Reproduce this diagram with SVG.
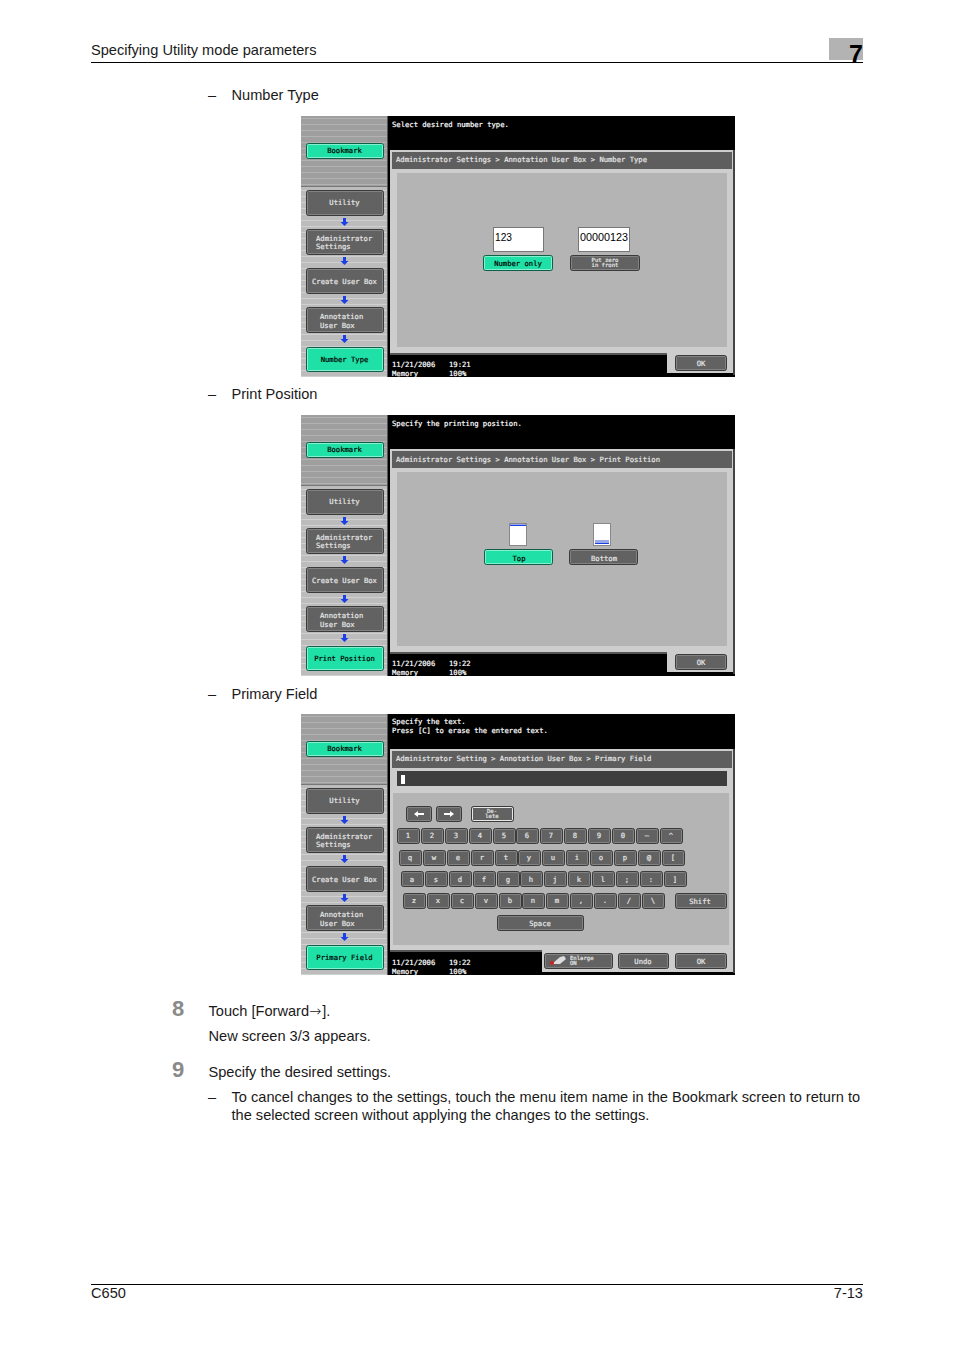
<svg xmlns="http://www.w3.org/2000/svg" xmlns:xlink="http://www.w3.org/1999/xlink" width="954" height="1350" viewBox="0 0 954 1350">
<style>
.t{font-family:"Liberation Sans",Arial,sans-serif;font-size:14.6px;fill:#1a1a1a}
.n{font-family:"Liberation Sans",Arial,sans-serif;font-size:22px;font-weight:bold;fill:#8a8a8a}
.m{font-family:"DejaVu Sans Mono","Liberation Mono",monospace;font-size:7.2px}
.w{fill:#fff;stroke:#fff;stroke-width:.2}.g{fill:#e6e6e6;stroke:#e6e6e6;stroke-width:.2}.k{fill:#000;stroke:#000;stroke-width:.2}.c{text-anchor:middle}
.s{font-size:5.6px}
.bo{fill:#626262;stroke:#3a3a3a;stroke-width:1}
.bi{fill:none;stroke:#828282;stroke-width:1}
.go{fill:#1fe0a6;stroke:#0d5f47;stroke-width:1}
.gi{fill:none;stroke:#86efce;stroke-width:1}
.ar{fill:#1a3fe6}
</style>
<defs>
<pattern id="st1" width="6" height="6" patternUnits="userSpaceOnUse"><rect width="6" height="6" fill="#9f9f9f"/><rect y="4" width="6" height="1" fill="#b2b2b2"/></pattern>
<pattern id="st2" width="6" height="6" patternUnits="userSpaceOnUse"><rect width="6" height="6" fill="#bcbcbc"/><rect y="4" width="6" height="1" fill="#d0d0d0"/></pattern>
<polygon id="down" class="ar" points="-1.5,0 1.5,0 1.5,4 4,4 0,8 -4,4 -1.5,4"/>
<g id="key"><rect x="0.5" y="0.5" width="22" height="15" rx="2" class="bo"/><rect x="1.5" y="1.5" width="20" height="13" rx="1" class="bi"/></g>
<g id="side">
<rect x="301" y="116" width="87" height="261" fill="url(#st2)"/>
<rect x="301" y="116" width="87" height="70" fill="url(#st1)"/>
<rect x="301" y="186" width="87" height="1" fill="#777"/>
<rect x="387" y="116" width="1" height="261" fill="#555"/>
<rect x="306.5" y="143.5" width="77" height="15" rx="2" class="go"/><rect x="307.5" y="144.5" width="75" height="13" rx="1" class="gi"/>
<rect x="306.5" y="190.5" width="77" height="25" rx="2" class="bo"/><rect x="307.5" y="191.5" width="75" height="23" rx="1" class="bi"/>
<use href="#down" xlink:href="#down" x="344.5" y="218"/>
<rect x="306.5" y="229.5" width="77" height="25" rx="2" class="bo"/><rect x="307.5" y="230.5" width="75" height="23" rx="1" class="bi"/>
<use href="#down" xlink:href="#down" x="344.5" y="257"/>
<rect x="306.5" y="268.5" width="77" height="25" rx="2" class="bo"/><rect x="307.5" y="269.5" width="75" height="23" rx="1" class="bi"/>
<use href="#down" xlink:href="#down" x="344.5" y="296"/>
<rect x="306.5" y="307.5" width="77" height="25" rx="2" class="bo"/><rect x="307.5" y="308.5" width="75" height="23" rx="1" class="bi"/>
<use href="#down" xlink:href="#down" x="344.5" y="335"/>
<rect x="306.5" y="347.5" width="77" height="24" rx="2" class="go"/><rect x="307.5" y="348.5" width="75" height="22" rx="1" class="gi"/>
</g>
</defs>
<rect width="954" height="1350" fill="#fff"/>
<g id="page-header">
<rect x="829" y="38" width="34" height="22" fill="#b3b3b3"/>
<text x="91" y="55" class="t">Specifying Utility mode parameters</text>
<text x="849" y="63" font-family="Liberation Sans,Arial,sans-serif" font-weight="bold" font-size="25" fill="#000">7</text>
<rect x="91" y="62" width="772" height="1" fill="#000"/>
</g>
<text x="208" y="100" class="t">–</text><text x="231.500" y="100" class="t">Number Type</text>
<text x="208" y="399" class="t">–</text><text x="231.500" y="399" class="t">Print Position</text>
<text x="208" y="699" class="t">–</text><text x="231.500" y="699" class="t">Primary Field</text>

<g id="screen-number-type">
<use href="#side" xlink:href="#side"/>
<rect x="388" y="116" width="347" height="261" fill="#000"/>
<rect x="390" y="150" width="343" height="203" fill="#cdcdcd"/>
<rect x="390" y="353" width="277" height="2" fill="#555"/>
<rect x="392" y="152" width="340" height="17" fill="#5e5e5e"/>
<rect x="667" y="353" width="66" height="20" fill="#cdcdcd"/>
<rect x="733" y="150" width="2" height="225" fill="#444"/>
<rect x="397" y="173" width="330" height="174" fill="#b4b4b4"/>
<rect x="493.500" y="227.500" width="50" height="24" fill="#fff" stroke="#777"/>
<rect x="578.500" y="227.500" width="51" height="24" fill="#fff" stroke="#777"/>
<text x="495" y="240.500" font-family="Liberation Sans,Arial,sans-serif" font-size="10" fill="#000" textLength="17" lengthAdjust="spacingAndGlyphs">123</text>
<text x="580" y="240.500" font-family="Liberation Sans,Arial,sans-serif" font-size="10" fill="#000" textLength="48" lengthAdjust="spacingAndGlyphs">00000123</text>
<rect x="483.500" y="255.500" width="69" height="15" rx="2" class="go"/><rect x="484.500" y="256.500" width="67" height="13" rx="1" class="gi"/>
<rect x="570.500" y="255.500" width="69" height="15" rx="2" class="bo"/><rect x="571.500" y="256.500" width="67" height="13" rx="1" class="bi"/>
<rect x="675.500" y="355.500" width="51" height="15" rx="2" class="bo"/><rect x="676.500" y="356.500" width="49" height="13" rx="1" class="bi"/>
<g class="m">
<text x="392" y="127" class="w">Select desired number type.</text>
<text x="396" y="162" class="g">Administrator Settings &gt; Annotation User Box &gt; Number Type</text>
<text x="344.500" y="153" class="k c">Bookmark</text>
<text x="344.500" y="205" class="g c">Utility</text>
<text x="316" y="241" class="g">Administrator</text>
<text x="316" y="249" class="g">Settings</text>
<text x="344.500" y="284" class="g c">Create User Box</text>
<text x="320" y="319" class="g">Annotation</text>
<text x="320" y="328" class="g">User Box</text>
<text x="344.500" y="362" class="k c">Number Type</text>
<text x="518" y="266" class="k c">Number only</text>
<text x="605" y="262" class="g c s">Put zero</text>
<text x="605" y="267" class="g c s">in front</text>
<text x="701" y="366" class="g c">OK</text>
<text x="392" y="367" class="w">11/21/2006</text>
<text x="449" y="367" class="w">19:21</text>
<text x="392" y="376" class="w">Memory</text>
<text x="449" y="376" class="w">100%</text>
</g>
</g>

<g id="screen-print-position" transform="translate(0,299)">
<use href="#side" xlink:href="#side"/>
<rect x="388" y="116" width="347" height="261" fill="#000"/>
<rect x="390" y="150" width="343" height="203" fill="#cdcdcd"/>
<rect x="390" y="353" width="277" height="2" fill="#555"/>
<rect x="392" y="152" width="340" height="17" fill="#5e5e5e"/>
<rect x="667" y="353" width="66" height="20" fill="#cdcdcd"/>
<rect x="733" y="150" width="2" height="225" fill="#444"/>
<rect x="397" y="173" width="330" height="174" fill="#b4b4b4"/>
<rect x="509.500" y="224.500" width="17" height="22" fill="#fff" stroke="#888"/>
<rect x="510" y="225" width="16" height="1" fill="#9aa8e8"/><rect x="510" y="226" width="16" height="1" fill="#1a3fe6"/>
<rect x="593.500" y="224.500" width="17" height="22" fill="#fff" stroke="#888"/>
<rect x="595" y="241" width="14" height="3" fill="#9aa8e8"/><rect x="595" y="244" width="14" height="1" fill="#1a3fe6"/>
<rect x="484.500" y="250.500" width="68" height="15" rx="2" class="go"/><rect x="485.500" y="251.500" width="66" height="13" rx="1" class="gi"/>
<rect x="569.500" y="250.500" width="68" height="15" rx="2" class="bo"/><rect x="570.500" y="251.500" width="66" height="13" rx="1" class="bi"/>
<rect x="675.500" y="355.500" width="51" height="15" rx="2" class="bo"/><rect x="676.500" y="356.500" width="49" height="13" rx="1" class="bi"/>
<g class="m">
<text x="392" y="127" class="w">Specify the printing position.</text>
<text x="396" y="163" class="g">Administrator Settings &gt; Annotation User Box &gt; Print Position</text>
<text x="344.500" y="153" class="k c">Bookmark</text>
<text x="344.500" y="205" class="g c">Utility</text>
<text x="316" y="241" class="g">Administrator</text>
<text x="316" y="249" class="g">Settings</text>
<text x="344.500" y="284" class="g c">Create User Box</text>
<text x="320" y="319" class="g">Annotation</text>
<text x="320" y="328" class="g">User Box</text>
<text x="344.500" y="362" class="k c">Print Position</text>
<text x="519" y="261.500" class="k c">Top</text>
<text x="604" y="261.500" class="g c">Bottom</text>
<text x="701" y="366" class="g c">OK</text>
<text x="392" y="367" class="w">11/21/2006</text>
<text x="449" y="367" class="w">19:22</text>
<text x="392" y="376" class="w">Memory</text>
<text x="449" y="376" class="w">100%</text>
</g>
</g>

<g id="screen-primary-field">
<g transform="translate(0,598)"><use href="#side" xlink:href="#side"/></g>
<rect x="388" y="714" width="347" height="261" fill="#000"/>
<rect x="390" y="749" width="343" height="203" fill="#cdcdcd"/>
<rect x="390" y="950" width="152" height="2" fill="#555"/>
<rect x="392" y="751" width="340" height="17" fill="#5e5e5e"/>
<rect x="542" y="950" width="191" height="22" fill="#cdcdcd"/>
<rect x="733" y="749" width="2" height="224" fill="#444"/>
<rect x="397" y="771" width="330" height="15" fill="#3e3e3e"/>
<rect x="393" y="793" width="336" height="152" fill="#b4b4b4"/>
<rect x="401" y="775" width="4" height="9" fill="#fff"/>
<rect x="406.500" y="806.500" width="25" height="15" rx="2" class="bo"/><rect x="407.500" y="807.500" width="23" height="13" rx="1" class="bi"/>
<polygon points="414,814 418,811 418,813 424,813 424,815 418,815 418,817" fill="#fff"/>
<rect x="436.500" y="806.500" width="25" height="15" rx="2" class="bo"/><rect x="437.500" y="807.500" width="23" height="13" rx="1" class="bi"/>
<polygon points="454,814 450,811 450,813 444,813 444,815 450,815 450,817" fill="#fff"/>
<rect x="471.500" y="806.500" width="42" height="15" rx="2" class="bo"/><rect x="472.500" y="807.500" width="40" height="13" rx="1" fill="none" stroke="#e8e8e8"/>
<g id="keys">
<use href="#key" xlink:href="#key" x="397" y="828"/><use href="#key" xlink:href="#key" x="421" y="828"/><use href="#key" xlink:href="#key" x="445" y="828"/><use href="#key" xlink:href="#key" x="469" y="828"/><use href="#key" xlink:href="#key" x="493" y="828"/><use href="#key" xlink:href="#key" x="516" y="828"/><use href="#key" xlink:href="#key" x="540" y="828"/><use href="#key" xlink:href="#key" x="564" y="828"/><use href="#key" xlink:href="#key" x="588" y="828"/><use href="#key" xlink:href="#key" x="612" y="828"/><use href="#key" xlink:href="#key" x="636" y="828"/><use href="#key" xlink:href="#key" x="660" y="828"/>
<use href="#key" xlink:href="#key" x="399" y="850"/><use href="#key" xlink:href="#key" x="423" y="850"/><use href="#key" xlink:href="#key" x="447" y="850"/><use href="#key" xlink:href="#key" x="471" y="850"/><use href="#key" xlink:href="#key" x="495" y="850"/><use href="#key" xlink:href="#key" x="518" y="850"/><use href="#key" xlink:href="#key" x="542" y="850"/><use href="#key" xlink:href="#key" x="566" y="850"/><use href="#key" xlink:href="#key" x="590" y="850"/><use href="#key" xlink:href="#key" x="614" y="850"/><use href="#key" xlink:href="#key" x="638" y="850"/><use href="#key" xlink:href="#key" x="662" y="850"/>
<use href="#key" xlink:href="#key" x="401" y="871"/><use href="#key" xlink:href="#key" x="425" y="871"/><use href="#key" xlink:href="#key" x="449" y="871"/><use href="#key" xlink:href="#key" x="473" y="871"/><use href="#key" xlink:href="#key" x="497" y="871"/><use href="#key" xlink:href="#key" x="520" y="871"/><use href="#key" xlink:href="#key" x="544" y="871"/><use href="#key" xlink:href="#key" x="568" y="871"/><use href="#key" xlink:href="#key" x="592" y="871"/><use href="#key" xlink:href="#key" x="616" y="871"/><use href="#key" xlink:href="#key" x="640" y="871"/><use href="#key" xlink:href="#key" x="664" y="871"/>
<use href="#key" xlink:href="#key" x="403" y="893"/><use href="#key" xlink:href="#key" x="427" y="893"/><use href="#key" xlink:href="#key" x="451" y="893"/><use href="#key" xlink:href="#key" x="475" y="893"/><use href="#key" xlink:href="#key" x="499" y="893"/><use href="#key" xlink:href="#key" x="522" y="893"/><use href="#key" xlink:href="#key" x="546" y="893"/><use href="#key" xlink:href="#key" x="570" y="893"/><use href="#key" xlink:href="#key" x="594" y="893"/><use href="#key" xlink:href="#key" x="618" y="893"/><use href="#key" xlink:href="#key" x="642" y="893"/>
</g>
<rect x="675.500" y="893.500" width="51" height="15" rx="2" class="bo"/><rect x="676.500" y="894.500" width="49" height="13" rx="1" class="bi"/>
<rect x="497.500" y="915.500" width="86" height="15" rx="2" class="bo"/><rect x="498.500" y="916.500" width="84" height="13" rx="1" class="bi"/>
<rect x="544.500" y="953.500" width="68" height="15" rx="2" class="bo"/><rect x="545.500" y="954.500" width="66" height="13" rx="1" class="bi"/>
<rect x="618.500" y="953.500" width="50" height="15" rx="2" class="bo"/><rect x="619.500" y="954.500" width="48" height="13" rx="1" class="bi"/>
<rect x="675.500" y="953.500" width="51" height="15" rx="2" class="bo"/><rect x="676.500" y="954.500" width="49" height="13" rx="1" class="bi"/>
<path d="M552 964 L560 957 L564 956 L566 959 L560 964 Z" fill="#ddd"/><circle cx="552" cy="963" r="2" fill="#d02020"/>
<g class="m">
<text x="392" y="724" class="w">Specify the text.</text>
<text x="392" y="733" class="w">Press [C] to erase the entered text.</text>
<text x="396" y="761" class="g">Administrator Setting &gt; Annotation User Box &gt; Primary Field</text>
<text x="344.500" y="751" class="k c">Bookmark</text>
<text x="344.500" y="803" class="g c">Utility</text>
<text x="316" y="839" class="g">Administrator</text>
<text x="316" y="847" class="g">Settings</text>
<text x="344.500" y="882" class="g c">Create User Box</text>
<text x="320" y="917" class="g">Annotation</text>
<text x="320" y="926" class="g">User Box</text>
<text x="344.500" y="960" class="k c">Primary Field</text>
<text x="492" y="813" class="g c s">De-</text>
<text x="492" y="818" class="g c s">lete</text>
<g class="g c">
<text x="408" y="838">1</text><text x="432" y="838">2</text><text x="456" y="838">3</text><text x="480" y="838">4</text><text x="504" y="838">5</text><text x="527" y="838">6</text><text x="551" y="838">7</text><text x="575" y="838">8</text><text x="599" y="838">9</text><text x="623" y="838">0</text><text x="647" y="838">–</text><text x="671" y="838">^</text>
<text x="410" y="860">q</text><text x="434" y="860">w</text><text x="458" y="860">e</text><text x="482" y="860">r</text><text x="506" y="860">t</text><text x="529" y="860">y</text><text x="553" y="860">u</text><text x="577" y="860">i</text><text x="601" y="860">o</text><text x="625" y="860">p</text><text x="649" y="860">@</text><text x="673" y="860">[</text>
<text x="412" y="882">a</text><text x="436" y="882">s</text><text x="460" y="882">d</text><text x="484" y="882">f</text><text x="508" y="882">g</text><text x="531" y="882">h</text><text x="555" y="882">j</text><text x="579" y="882">k</text><text x="603" y="882">l</text><text x="627" y="882">;</text><text x="651" y="882">:</text><text x="675" y="882">]</text>
<text x="414" y="903">z</text><text x="438" y="903">x</text><text x="462" y="903">c</text><text x="486" y="903">v</text><text x="510" y="903">b</text><text x="533" y="903">n</text><text x="557" y="903">m</text><text x="581" y="903">,</text><text x="605" y="903">.</text><text x="629" y="903">/</text><text x="653" y="903">\</text>
<text x="700" y="903.500">Shift</text>
<text x="540" y="925.500">Space</text>
<text x="643" y="963.500">Undo</text>
<text x="701" y="964">OK</text>
</g>
<text x="570" y="959.500" class="g s">Enlarge</text>
<text x="570" y="964.500" class="g s">ON</text>
<text x="392" y="965" class="w">11/21/2006</text>
<text x="449" y="965" class="w">19:22</text>
<text x="392" y="974" class="w">Memory</text>
<text x="449" y="974" class="w">100%</text>
</g>
</g>

<g id="steps">
<text x="172" y="1016" class="n">8</text>
<text x="208.500" y="1016" class="t">Touch [Forward<tspan font-family="DejaVu Sans,sans-serif" font-weight="200">→</tspan><tspan dx="1">].</tspan></text>
<text x="208.500" y="1041" class="t">New screen 3/3 appears.</text>
<text x="172" y="1077" class="n">9</text>
<text x="208.500" y="1077" class="t">Specify the desired settings.</text>
<text x="208" y="1102" class="t">–</text>
<text x="231.500" y="1102" class="t">To cancel changes to the settings, touch the menu item name in the Bookmark screen to return to</text>
<text x="231.500" y="1120" class="t">the selected screen without applying the changes to the settings.</text>
</g>
<g id="page-footer">
<rect x="91" y="1284" width="772" height="1" fill="#000"/>
<text x="91" y="1298" class="t">C650</text>
<text x="863" y="1298" class="t" text-anchor="end">7-13</text>
</g>
</svg>
